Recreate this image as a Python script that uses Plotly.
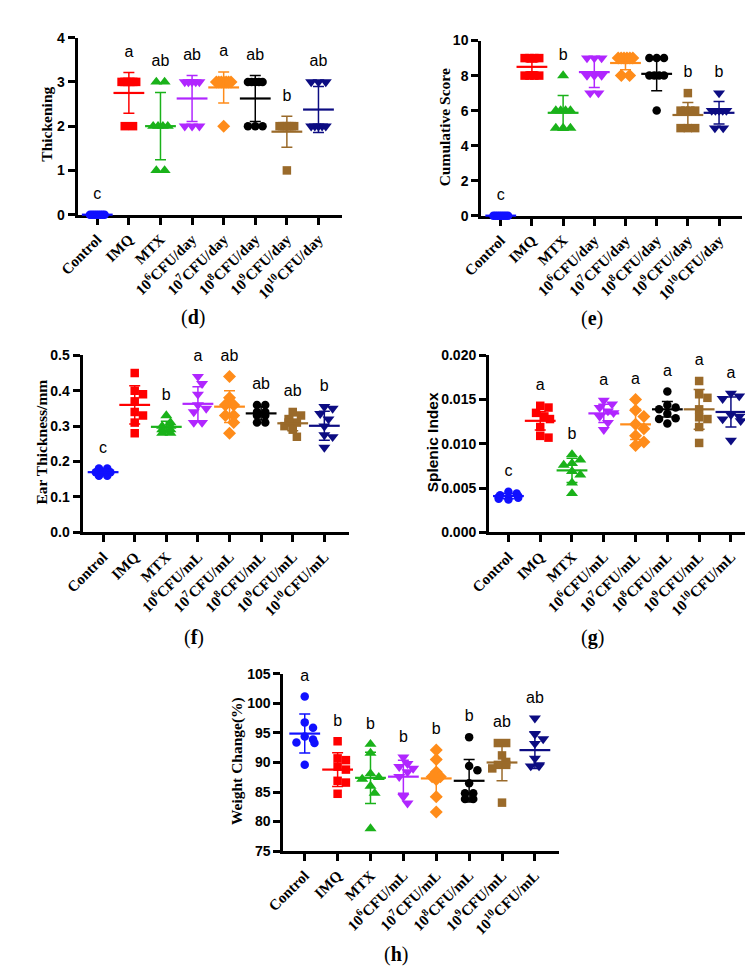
import plotly.graph_objects as go

# ---------------- data ----------------
labels_day = ["Control", "IMQ", "MTX", "10<sup>6</sup>CFU/day", "10<sup>7</sup>CFU/day",
              "10<sup>8</sup>CFU/day", "10<sup>9</sup>CFU/day", "10<sup>10</sup>CFU/day"]
labels_ml = ["Control", "IMQ", "MTX", "10<sup>6</sup>CFU/mL", "10<sup>7</sup>CFU/mL",
             "10<sup>8</sup>CFU/mL", "10<sup>9</sup>CFU/mL", "10<sup>10</sup>CFU/mL"]

group_colors = ["#1010ff", "#ff0000", "#1ab21a", "#b026ff", "#ff8c1a", "#000000", "#9a6a2a", "#0c0c82"]
group_symbols = ["circle", "square", "triangle-up", "triangle-down", "diamond", "circle", "square", "triangle-down"]

# (d) Thickening
thick_points = [
    [0, 0, 0, 0, 0, 0, 0, 0],
    [3, 3, 3, 3, 3, 3, 2, 2],
    [3, 3, 2, 2, 2, 2, 1, 1],
    [3, 3, 3, 3, 3, 2, 2, 2],
    [3, 3, 3, 3, 3, 3, 3, 2],
    [3, 3, 3, 3, 3, 2, 2, 2],
    [2, 2, 2, 2, 2, 2, 2, 1],
    [3, 3, 3, 2, 2, 2, 2, 2],
]
thick_mean = [0, 2.75, 2.0, 2.625, 2.875, 2.625, 1.875, 2.375]
thick_sd = [0, 0.46, 0.76, 0.52, 0.35, 0.52, 0.35, 0.52]
thick_letters = ["c", "a", "ab", "ab", "a", "ab", "b", "ab"]
thick_ticks = [0, 1, 2, 3, 4]
thick_ticktext = ["0", "1", "2", "3", "4"]

# (e) Cumulative Score
score_points = [
    [0, 0, 0, 0, 0, 0, 0, 0],
    [9, 9, 9, 9, 8, 8, 8, 8],
    [8, 6, 6, 6, 6, 5, 5, 5],
    [9, 9, 9, 8, 8, 8, 7, 7],
    [9, 9, 9, 9, 9, 9, 8, 8],
    [9, 9, 9, 8, 8, 8, 8, 6],
    [7, 6, 6, 6, 6, 5, 5, 5],
    [7, 6, 6, 6, 6, 6, 5, 5],
]
score_mean = [0, 8.5, 5.875, 8.2, 8.72, 8.1, 5.75, 5.875]
score_sd = [0, 0.28, 0.99, 0.88, 0.38, 0.97, 0.71, 0.64]
score_letters = ["c", "a", "b", "a", "a", "a", "b", "b"]
score_ticks = [0, 2, 4, 6, 8, 10]
score_ticktext = ["0", "2", "4", "6", "8", "10"]

# (f) Ear Thickness/mm
ear_points = [
    [0.18, 0.18, 0.17, 0.17, 0.17, 0.17, 0.16, 0.16],
    [0.45, 0.40, 0.39, 0.37, 0.34, 0.33, 0.31, 0.28],
    [0.33, 0.31, 0.30, 0.30, 0.29, 0.29, 0.28, 0.28],
    [0.44, 0.42, 0.39, 0.36, 0.35, 0.34, 0.31, 0.31],
    [0.44, 0.38, 0.36, 0.36, 0.33, 0.33, 0.31, 0.28],
    [0.36, 0.36, 0.34, 0.34, 0.33, 0.33, 0.31, 0.31],
    [0.34, 0.33, 0.32, 0.31, 0.31, 0.30, 0.29, 0.27],
    [0.355, 0.35, 0.335, 0.32, 0.30, 0.275, 0.27, 0.24],
]
ear_mean = [0.170, 0.360, 0.298, 0.363, 0.355, 0.336, 0.308, 0.301]
ear_sd = [0.008, 0.054, 0.016, 0.048, 0.045, 0.019, 0.021, 0.041]
ear_letters = ["c", "a", "b", "a", "ab", "ab", "ab", "b"]
ear_ticks = [0.0, 0.1, 0.2, 0.3, 0.4, 0.5]
ear_ticktext = ["0.0", "0.1", "0.2", "0.3", "0.4", "0.5"]

# (g) Splenic Index
spleen_points = [
    [0.0046, 0.0044, 0.0042, 0.0041, 0.0040, 0.0039, 0.0038, 0.0037],
    [0.0143, 0.0141, 0.0135, 0.0131, 0.0128, 0.0119, 0.0109, 0.0107],
    [0.0088, 0.0082, 0.0078, 0.0076, 0.0069, 0.0065, 0.0056, 0.0044],
    [0.0149, 0.0145, 0.0141, 0.0137, 0.0135, 0.0131, 0.0124, 0.0116],
    [0.0150, 0.0138, 0.0131, 0.0122, 0.0117, 0.0109, 0.0102, 0.0098],
    [0.0159, 0.0144, 0.0141, 0.0139, 0.0134, 0.0129, 0.0128, 0.0123],
    [0.0171, 0.0156, 0.0152, 0.0139, 0.0130, 0.0128, 0.0119, 0.0101],
    [0.0157, 0.0154, 0.0151, 0.0133, 0.0131, 0.0128, 0.0126, 0.0104],
]
spleen_mean = [0.0041, 0.0126, 0.0070, 0.01344, 0.0122, 0.0139, 0.0139, 0.0136]
spleen_sd = [0.0003, 0.00105, 0.00137, 0.00102, 0.0017, 0.00088, 0.00225, 0.0017]
spleen_letters = ["c", "a", "b", "a", "a", "a", "a", "a"]
spleen_ticks = [0.0, 0.005, 0.010, 0.015, 0.020]
spleen_ticktext = ["0.000", "0.005", "0.010", "0.015", "0.020"]

# (h) Weight Change(%)
weight_points = [
    [101.2, 96.8, 95.9, 94.4, 93.9, 93.4, 93.3, 89.6],
    [93.6, 90.7, 90.4, 89.3, 88.8, 86.9, 86.6, 84.7],
    [93.1, 91.6, 88.1, 87.5, 87.2, 86.0, 84.8, 78.8],
    [90.9, 89.8, 89.3, 89.0, 88.4, 87.6, 84.2, 83.1],
    [92.1, 90.5, 88.4, 87.6, 87.6, 87.1, 84.2, 81.6],
    [94.3, 89.4, 88.7, 86.5, 84.8, 84.8, 83.8, 83.8],
    [93.3, 93.3, 91.2, 90.1, 89.6, 89.6, 89.0, 83.2],
    [97.5, 94.8, 94.0, 93.2, 90.7, 89.6, 89.4, 89.4],
]
weight_mean = [94.9, 88.8, 87.4, 87.6, 87.3, 86.9, 90.0, 92.1]
weight_sd = [3.3, 2.85, 4.35, 2.8, 3.2, 3.6, 3.1, 3.1]
weight_letters = ["a", "b", "b", "b", "b", "b", "ab", "ab"]
weight_ticks = [75, 80, 85, 90, 95, 100, 105]
weight_ticktext = ["75", "80", "85", "90", "95", "100", "105"]

# ---------------- layout helpers ----------------
W, H = 753, 972
SERIF = "Liberation Serif, Times New Roman, serif"
SANS = "Liberation Sans, Arial, sans-serif"

panels = [
    dict(points=thick_points, mean=thick_mean, sd=thick_sd, letters=thick_letters, labels=labels_day,
         px=(52, 323), py=(22, 202), xr=(-0.62, 7.74), yr=(0, 4), ticks=thick_ticks, ticktext=thick_ticktext,
         title="Thickening", tfont=SERIF, tpos=(20, 110), cap="d", cpos=(170, 307)),
    dict(points=score_points, mean=score_mean, sd=score_sd, letters=score_letters, labels=labels_day,
         px=(466, 733), py=(25, 203), xr=(-0.625, 7.72), yr=(0, 10), ticks=score_ticks, ticktext=score_ticktext,
         title="Cumulative Score", tfont=SERIF, tpos=(428, 113), cap="e", cpos=(580, 308)),
    dict(points=ear_points, mean=ear_mean, sd=ear_sd, letters=ear_letters, labels=labels_ml,
         px=(57, 330), py=(345, 525), xr=(-0.65, 7.77), yr=(0, 0.5), ticks=ear_ticks, ticktext=ear_ticktext,
         title="Ear Thickness/mm", tfont=SERIF, tpos=(15, 433), cap="f", cpos=(171, 632)),
    dict(points=spleen_points, mean=spleen_mean, sd=spleen_sd, letters=spleen_letters, labels=labels_ml,
         px=(474, 744), py=(345, 525), xr=(-0.61, 7.67), yr=(0, 0.020), ticks=spleen_ticks, ticktext=spleen_ticktext,
         title="Splenic Index", tfont=SANS, tpos=(416, 434), cap="g", cpos=(580, 632)),
    dict(points=weight_points, mean=weight_mean, sd=weight_sd, letters=weight_letters, labels=labels_ml,
         px=(263, 546), py=(669, 849), xr=(-0.65, 7.74), yr=(75, 105), ticks=weight_ticks, ticktext=weight_ticktext,
         title="Weight Change(%)", tfont=SERIF, tpos=(215, 758), cap="h", cpos=(379, 954)),
]


def swarm_offsets(vals, ppy, ppx, d=8.5, maxw=10.0, tie_maxw=7.5):
    n = len(vals)
    order = sorted(range(n), key=lambda i: -vals[i])
    cands = [0.0]
    for j in range(1, 12):
        cands += [j * d * 0.5, -j * d * 0.5]
    placed = []
    off = [0.0] * n
    for i in order:
        y = vals[i] * ppy
        chosen = cands[-1]
        for c in cands:
            if all((c - px) ** 2 + (y - py) ** 2 >= d * d * 0.8 for px, py in placed):
                chosen = c
                break
        placed.append((chosen, y))
        off[i] = chosen
    ties = {}
    for i, v in enumerate(vals):
        ties.setdefault(v, []).append(i)
    for v, idx in ties.items():
        if len(idx) > 1:
            idx = sorted(idx, key=lambda i: off[i])
            m = len(idx)
            step = min(d, 2 * tie_maxw / (m - 1))
            for k, i in enumerate(idx):
                off[i] = (k - (m - 1) / 2) * step
    off = [max(-maxw, min(maxw, o)) for o in off]
    return [o / ppx for o in off]


fig = go.Figure()
layout = dict(width=W, height=H, margin=dict(l=0, r=0, t=0, b=0), paper_bgcolor="white",
              plot_bgcolor="white", showlegend=False, annotations=[])

for k, p in enumerate(panels):
    sfx = "" if k == 0 else str(k + 1)
    xa, ya = "x" + sfx, "y" + sfx
    ppx = (p["px"][1] - p["px"][0]) / (p["xr"][1] - p["xr"][0])
    ppy = (p["py"][1] - p["py"][0]) / (p["yr"][1] - p["yr"][0])

    for g, vals in enumerate(p["points"]):
        offs = swarm_offsets(vals, ppy, ppx)
        sym = group_symbols[g]
        size = 10.5 if "triangle" in sym else (10 if sym == "diamond" else 8.5)
        fig.add_trace(go.Scatter(
            x=[g + o for o in offs], y=vals, xaxis=xa, yaxis=ya, mode="markers",
            marker=dict(symbol=sym, size=size, color=group_colors[g], line=dict(width=0)),
            cliponaxis=False, hoverinfo="skip"))
    for g in range(len(p["mean"])):
        fig.add_trace(go.Scatter(
            x=[g], y=[p["mean"][g]], xaxis=xa, yaxis=ya, mode="markers",
            marker=dict(symbol="line-ew", size=22, color=group_colors[g],
                        line=dict(width=2.2, color=group_colors[g])),
            error_y=dict(type="data", array=[p["sd"][g]], visible=True, color=group_colors[g],
                         thickness=1.5, width=5.5),
            cliponaxis=False, hoverinfo="skip"))
    # significance letters above each group
    ly = []
    for g in range(len(p["mean"])):
        top = max(max(p["points"][g]), p["mean"][g] + p["sd"][g])
        ly.append(top + 20 / ppy)
    fig.add_trace(go.Scatter(
        x=list(range(len(p["letters"]))), y=ly, text=p["letters"], mode="text", xaxis=xa, yaxis=ya,
        textfont=dict(family=SANS, size=16, color="black"), cliponaxis=False, hoverinfo="skip"))

    layout["xaxis" + sfx] = dict(
        domain=[p["px"][0] / W, p["px"][1] / W], range=list(p["xr"]), anchor=ya,
        tickvals=list(range(8)), ticktext=p["labels"], tickangle=-45,
        showline=True, linewidth=3, linecolor="black", ticks="outside", ticklen=7, tickwidth=3,
        tickcolor="black", showgrid=False, zeroline=False, layer="below traces",
        tickfont=dict(family=SERIF, size=15, color="black", weight="bold"))
    layout["yaxis" + sfx] = dict(
        domain=[1 - p["py"][1] / H, 1 - p["py"][0] / H], range=list(p["yr"]), anchor=xa,
        tickvals=p["ticks"], ticktext=p["ticktext"],
        showline=True, linewidth=3, linecolor="black", ticks="outside", ticklen=7, tickwidth=3,
        tickcolor="black", showgrid=False, zeroline=False, layer="below traces",
        tickfont=dict(family=SANS, size=14, color="black", weight="bold"))
    layout["annotations"].append(dict(
        text=p["title"], x=p["tpos"][0] / W, y=1 - p["tpos"][1] / H, xref="paper", yref="paper",
        textangle=-90, showarrow=False, xanchor="center", yanchor="middle",
        font=dict(family=p["tfont"], size=15.5, color="black", weight="bold")))
    layout["annotations"].append(dict(
        text="(<b>" + p["cap"] + "</b>)", x=p["cpos"][0] / W, y=1 - p["cpos"][1] / H,
        xref="paper", yref="paper", showarrow=False, xanchor="center", yanchor="middle",
        font=dict(family=SERIF, size=20, color="black")))

fig.update_layout(**layout)
fig.write_html("out.html")
